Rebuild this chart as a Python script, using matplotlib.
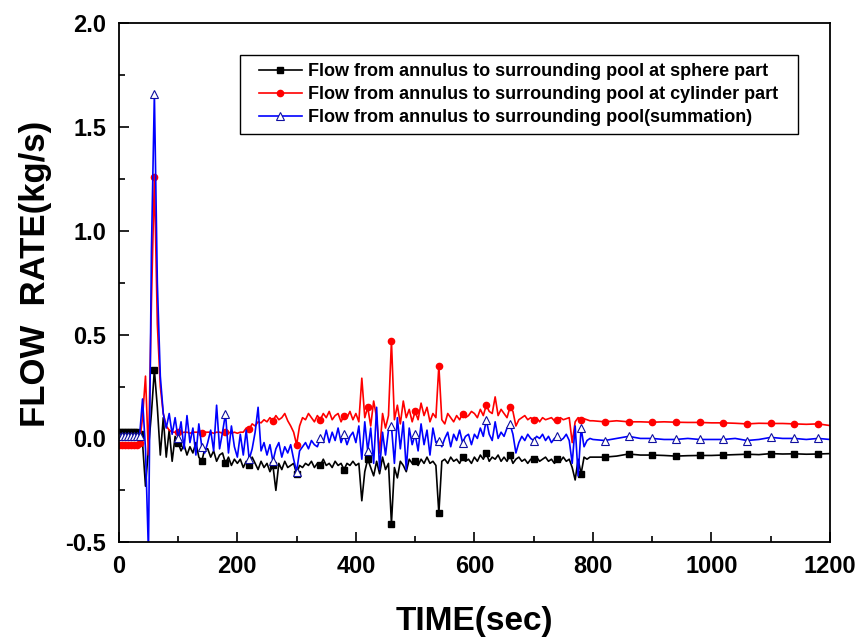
import matplotlib
matplotlib.use("Agg")
import matplotlib.pyplot as plt
from matplotlib.ticker import MultipleLocator
from matplotlib.patches import Rectangle
from matplotlib.transforms import IdentityTransform

plt.rcParams['font.family'] = ['Liberation Sans', 'DejaVu Sans']
plt.rcParams['font.weight'] = 'bold'

# time grid (sec)
time = list(range(0, 805, 5)) + list(range(820, 1201, 20))

sphere = [
    0.03, 0.03, 0.03, 0.03, 0.03, 0.03, 0.03, 0.02, -0.02, -0.23,
    -0.05, 0.12, 0.33, 0.15, -0.08, 0.10, -0.09, 0.04, -0.11, 0.01,
    -0.02, -0.06, -0.03, -0.08, -0.04, -0.07, -0.02, -0.09, -0.11, -0.05,
    -0.05, -0.09, -0.06, -0.11, -0.08, -0.07, -0.12, -0.09, -0.13, -0.10,
    -0.12, -0.10, -0.14, -0.11, -0.13, -0.09, -0.12, -0.15, -0.11, -0.14,
    -0.12, -0.16, -0.13, -0.25, -0.12, -0.15, -0.11, -0.14, -0.13, -0.12,
    -0.17, -0.13, -0.14, -0.12, -0.13, -0.11, -0.14, -0.12, -0.13, -0.10,
    -0.13, -0.12, -0.14, -0.11, -0.13, -0.12, -0.15, -0.12, -0.13, -0.11,
    -0.13, -0.12, -0.30, -0.16, -0.10, -0.14, -0.18, -0.11, -0.17, -0.09,
    -0.15, -0.12, -0.41, -0.14, -0.19, -0.11, -0.13, -0.16, -0.10, -0.12,
    -0.11, -0.13, -0.10, -0.12, -0.09, -0.12, -0.11, -0.13, -0.36, -0.11,
    -0.10, -0.12, -0.09, -0.11, -0.10, -0.12, -0.09, -0.11, -0.10, -0.12,
    -0.09, -0.11, -0.08, -0.10, -0.07, -0.11, -0.09, -0.10, -0.08, -0.11,
    -0.09, -0.11, -0.08, -0.12, -0.10, -0.09, -0.11, -0.10, -0.12, -0.10,
    -0.10, -0.09, -0.11, -0.10, -0.09, -0.11, -0.10, -0.12, -0.10, -0.11,
    -0.09, -0.11, -0.10, -0.14, -0.20, -0.10, -0.17, -0.09, -0.10, -0.09,
    -0.09,
    -0.09, -0.085, -0.075, -0.08, -0.08, -0.082, -0.085, -0.083, -0.082, -0.082,
    -0.08, -0.078, -0.076, -0.078, -0.073, -0.075, -0.074, -0.076, -0.075, -0.073,
]

cylinder = [
    -0.03, -0.03, -0.03, -0.03, -0.03, -0.03, -0.03, -0.02, 0.10, 0.30,
    -0.08, 0.65, 1.26, 0.55, 0.25, 0.12, 0.06, 0.04, 0.03, 0.03,
    0.03, 0.025, 0.03, 0.03, 0.025, 0.03, 0.03, 0.03, 0.025, 0.03,
    0.03, 0.03, 0.025, 0.03, 0.03, 0.025, 0.03, 0.03, 0.025, 0.03,
    0.025, 0.03, 0.03, 0.05, 0.045, 0.07, 0.06, 0.08, 0.075, 0.09,
    0.08, 0.10, 0.085, 0.11, 0.09, 0.10, 0.12, 0.085, 0.06, 0.03,
    -0.03, 0.06, 0.10, 0.09, 0.12, 0.10, 0.08, 0.11, 0.09, 0.12,
    0.10, 0.13, 0.09, 0.11, 0.12, 0.08, 0.11, 0.10, 0.13, 0.09,
    0.12, 0.08, 0.29, 0.10, 0.15, 0.06, 0.18, 0.10, -0.07, 0.12,
    0.05, 0.11, 0.47, 0.09, 0.16, 0.07, 0.18, 0.10, 0.14, 0.08,
    0.13, 0.09, 0.17, 0.11, 0.15, 0.08, 0.12, 0.10, 0.35, 0.09,
    0.07, 0.12, 0.10, 0.08, 0.11, 0.09, 0.12, 0.10, 0.11, 0.13,
    0.12, 0.10, 0.14, 0.11, 0.16, 0.13, 0.12, 0.20, 0.11, 0.14,
    0.12, 0.10, 0.15, 0.13, 0.06, 0.09, 0.10, 0.11, 0.09, 0.10,
    0.09, 0.10, 0.08, 0.10, 0.09, 0.095, 0.10, 0.085, 0.09, 0.10,
    0.09, 0.095, 0.10, -0.02, 0.08, 0.10, 0.09, 0.095, 0.09, 0.085,
    0.085,
    0.08, 0.085, 0.08, 0.08, 0.078, 0.08, 0.078, 0.077, 0.077, 0.075,
    0.075, 0.073, 0.07, 0.073, 0.072, 0.072, 0.07, 0.068, 0.07, 0.062,
]

summation = [
    0.01, 0.01, 0.01, 0.01, 0.01, 0.01, 0.01, 0.01, 0.19, -0.05,
    -0.55, 0.90, 1.66, 0.75, 0.30, 0.12, 0.05, 0.12, 0.02, 0.10,
    0.00, 0.08, -0.05, 0.11, -0.02, 0.05, -0.08, 0.07, -0.04, -0.07,
    -0.02, 0.04, -0.06, 0.16, -0.05, 0.03, 0.12, -0.07, 0.06, -0.04,
    -0.09, 0.02, -0.08, 0.04, -0.10, -0.05, 0.03, 0.15, -0.06, -0.02,
    -0.08, -0.03, -0.11, -0.05, -0.02, -0.09, -0.04, -0.07, -0.03, -0.10,
    -0.16, -0.06, -0.04, -0.02, -0.05, -0.01, -0.03, -0.04, 0.00, -0.02,
    0.04, -0.02, 0.03, -0.01, 0.05, -0.02, 0.02, -0.03, 0.01, 0.03,
    -0.02, 0.06, -0.10, 0.08, -0.06, 0.05, -0.12, 0.15, -0.15, 0.03,
    -0.08, 0.04, 0.06, -0.12, 0.10, -0.05, 0.08, -0.15, 0.05, -0.03,
    0.02, -0.06, 0.07, -0.03, 0.04, -0.08, 0.05, -0.02, -0.01, -0.04,
    0.00, 0.03, -0.04, 0.02, -0.01, 0.04, -0.02, 0.01, 0.02, -0.03,
    0.02, 0.00, 0.05, 0.01, 0.09, 0.02, -0.01, 0.08, 0.00, 0.03,
    0.01, 0.05, 0.07, 0.02, -0.07, -0.02, 0.01, -0.01, 0.02, 0.00,
    -0.01, 0.01, 0.00, 0.02, -0.01, 0.01, -0.02, 0.00, 0.01, -0.01,
    0.00, 0.02, -0.01, -0.12, 0.06, -0.18, 0.05, -0.04, -0.01, 0.00,
    -0.005,
    -0.01, 0.0, 0.01, 0.0, 0.0, -0.005, -0.005, 0.0, -0.005, -0.005,
    -0.005, 0.0, -0.01, -0.005, 0.005, 0.0, 0.0, -0.005, 0.0, -0.005,
]

labels = [
    "Flow from annulus to surrounding pool at sphere part",
    "Flow from annulus to surrounding pool at cylinder part",
    "Flow from annulus to surrounding pool(summation)",
]

mark_idx = [i for i, t in enumerate(time) if t <= 35 or (t - 20) % 40 == 0]

fig = plt.figure(figsize=(8.61, 6.38), dpi=100)
ax = fig.add_axes([0.138, 0.150, 0.826, 0.814])

ax.plot(time, sphere, color='black', lw=1.2, marker='s', ms=4.5,
        markevery=mark_idx, label=labels[0])
ax.plot(time, cylinder, color='#ff0000', lw=1.2, marker='o', ms=4.5,
        markevery=mark_idx, label=labels[1])
ax.plot(time, summation, color='#0000ff', lw=1.2, marker='^', ms=6,
        mfc='white', mec='#1010a0', mew=0.8, markevery=mark_idx, label=labels[2])

ax.set_xlim(0, 1200)
ax.set_ylim(-0.5, 2.0)
ax.xaxis.set_major_locator(MultipleLocator(200))
ax.xaxis.set_minor_locator(MultipleLocator(100))
ax.yaxis.set_major_locator(MultipleLocator(0.5))
ax.yaxis.set_minor_locator(MultipleLocator(0.25))
ax.yaxis.set_major_formatter(plt.FormatStrFormatter('%.1f'))
ax.tick_params(which='both', direction='in', top=False, right=False, width=1.2)
ax.tick_params(which='major', length=7, labelsize=17, pad=9)
ax.tick_params(which='minor', length=4)
for lab in ax.get_xticklabels() + ax.get_yticklabels():
    lab.set_fontweight('bold')
for s in ax.spines.values():
    s.set_linewidth(1.3)

ax.set_xlabel("TIME(sec)", fontsize=24, fontweight='bold', labelpad=20)
ax.set_ylabel("FLOW  RATE(kg/s)", fontsize=25, fontweight='bold')
ax.yaxis.set_label_coords(-0.094, 0.516)

leg = ax.legend(loc='upper right', bbox_to_anchor=(0.939, 0.938),
                frameon=False,
                handlelength=2.4, handletextpad=0.35, labelspacing=0.32,
                borderpad=0.45, borderaxespad=0.0,
                prop={'weight': 'bold', 'size': 13})
leg.set_zorder(6)

# legend frame, widened horizontally like the original
fig.canvas.draw()
bb = leg.get_window_extent()
extra = 11
frame = Rectangle((bb.x0 - extra, bb.y0), bb.width + 2 * extra, bb.height,
                  transform=IdentityTransform(), facecolor='white',
                  edgecolor='black', linewidth=1.0, zorder=5)
ax.add_artist(frame)

fig.savefig("out.png", dpi=100)
